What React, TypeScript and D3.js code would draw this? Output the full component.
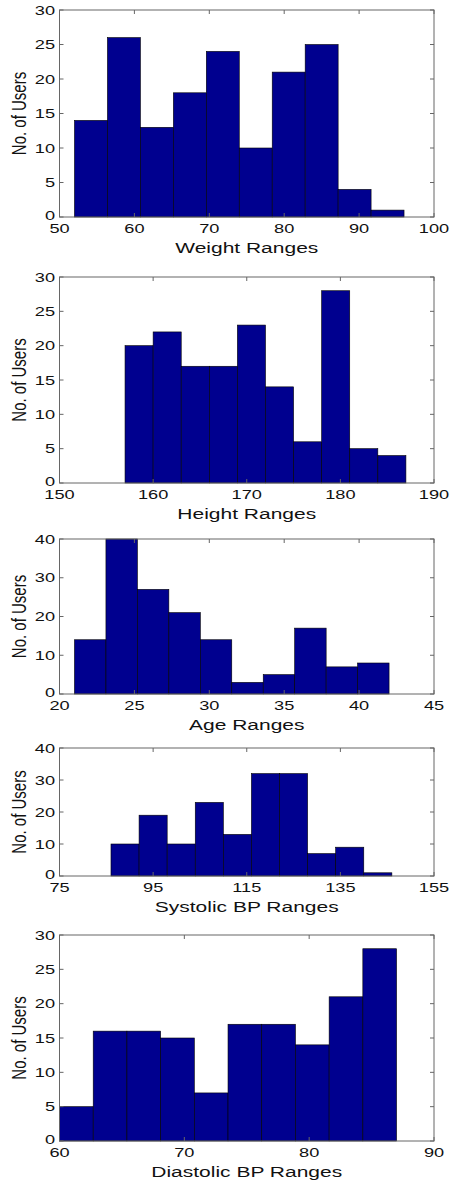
import React from "react";
import * as d3 from "d3";

const weightEdges = [52, 56.4, 60.8, 65.2, 69.6, 74, 78.4, 82.8, 87.2, 91.6, 96];
const weightCounts = [14, 26, 13, 18, 24, 10, 21, 25, 4, 1];
const weightTicks = [50, 60, 70, 80, 90, 100];

const heightEdges = [157, 160, 163, 166, 169, 172, 175, 178, 181, 184, 187];
const heightCounts = [20, 22, 17, 17, 23, 14, 6, 28, 5, 4];
const heightTicks = [150, 160, 170, 180, 190];

const ageEdges = [21, 23.1, 25.2, 27.3, 29.4, 31.5, 33.6, 35.7, 37.8, 39.9, 42];
const ageCounts = [14, 40, 27, 21, 14, 3, 5, 17, 7, 8];
const ageTicks = [20, 25, 30, 35, 40, 45];

const sysEdges = [86, 92, 98, 104, 110, 116, 122, 128, 134, 140, 146];
const sysCounts = [10, 19, 10, 23, 13, 32, 32, 7, 9, 1];
const sysTicks = [75, 95, 115, 135, 155];

const diaEdges = [60, 62.7, 65.4, 68.1, 70.8, 73.5, 76.2, 78.9, 81.6, 84.3, 87];
const diaCounts = [5, 16, 16, 15, 7, 17, 17, 14, 21, 28];
const diaTicks = [60, 70, 80, 90];

const panels = [
  { label: "Weight Ranges", edges: weightEdges, counts: weightCounts, xTicks: weightTicks, yMax: 30, yStep: 5, top: 10, bottom: 217 },
  { label: "Height Ranges", edges: heightEdges, counts: heightCounts, xTicks: heightTicks, yMax: 30, yStep: 5, top: 277, bottom: 483 },
  { label: "Age Ranges", edges: ageEdges, counts: ageCounts, xTicks: ageTicks, yMax: 40, yStep: 10, top: 539, bottom: 694 },
  { label: "Systolic BP Ranges", edges: sysEdges, counts: sysCounts, xTicks: sysTicks, yMax: 40, yStep: 10, top: 748, bottom: 876 },
  { label: "Diastolic BP Ranges", edges: diaEdges, counts: diaCounts, xTicks: diaTicks, yMax: 30, yStep: 5, top: 935, bottom: 1141 },
];

const LEFT = 59.5;
const RIGHT = 434;
const SX = 1.4;
const FONT = "'Liberation Sans', Arial, Helvetica, sans-serif";
const BAR = "#00008f";
const AXIS = "#666";

function Panel({ p }: { p: (typeof panels)[number] }) {
  const x = d3.scaleLinear().domain([p.xTicks[0], p.xTicks[p.xTicks.length - 1]]).range([LEFT, RIGHT]);
  const y = d3.scaleLinear().domain([0, p.yMax]).range([p.bottom, p.top]);
  const yTicks = d3.range(0, p.yMax + 0.001, p.yStep);
  const tl = 4;
  return (
    <g>
      {p.counts.map((c, i) => (
        <rect
          key={i}
          x={x(p.edges[i])}
          y={y(c)}
          width={x(p.edges[i + 1]) - x(p.edges[i])}
          height={y(0) - y(c)}
          fill={BAR}
          stroke="#000"
          strokeWidth={0.6}
        />
      ))}
      <rect x={LEFT} y={p.top} width={RIGHT - LEFT} height={p.bottom - p.top} fill="none" stroke={AXIS} strokeWidth={1} />
      {p.xTicks.map((t) => (
        <g key={"x" + t}>
          <line x1={x(t)} x2={x(t)} y1={p.bottom} y2={p.bottom - tl} stroke={AXIS} strokeWidth={1} />
          <line x1={x(t)} x2={x(t)} y1={p.top} y2={p.top + tl} stroke={AXIS} strokeWidth={1} />
          <text
            transform={`translate(${x(t)},${p.bottom + 11.5}) scale(${SX},1)`}
            textAnchor="middle"
            dominantBaseline="central"
            fontFamily={FONT}
            fontSize={13}
            fill="#111"
          >
            {t}
          </text>
        </g>
      ))}
      {yTicks.map((t) => (
        <g key={"y" + t}>
          <line x1={LEFT} x2={LEFT + tl} y1={y(t)} y2={y(t)} stroke={AXIS} strokeWidth={1} />
          <line x1={RIGHT} x2={RIGHT - tl} y1={y(t)} y2={y(t)} stroke={AXIS} strokeWidth={1} />
          <text
            transform={`translate(${LEFT - 4.5},${y(t) - (t === 0 ? 2 : 0)}) scale(${SX},1)`}
            textAnchor="end"
            dominantBaseline="central"
            fontFamily={FONT}
            fontSize={13}
            fill="#111"
          >
            {t}
          </text>
        </g>
      ))}
      <text
        transform={`translate(${(LEFT + RIGHT) / 2},${p.bottom + 30.5}) scale(${SX},1)`}
        textAnchor="middle"
        dominantBaseline="central"
        fontFamily={FONT}
        fontSize={15}
        fill="#111"
      >
        {p.label}
      </text>
      <text
        transform={`translate(18.5,${(p.top + p.bottom) / 2}) scale(${SX},1) rotate(-90)`}
        textAnchor="middle"
        dominantBaseline="central"
        fontFamily={FONT}
        fontSize={15}
        fill="#111"
      >
        No. of Users
      </text>
    </g>
  );
}

export default function App() {
  return (
    <svg
      width={450}
      height={1184}
      viewBox="0 0 450 1184"
      style={{ position: "absolute", left: 0, top: 0, background: "#fff" }}
    >
      <rect width={450} height={1184} fill="#fff" />
      {panels.map((p) => (
        <Panel key={p.label} p={p} />
      ))}
    </svg>
  );
}
